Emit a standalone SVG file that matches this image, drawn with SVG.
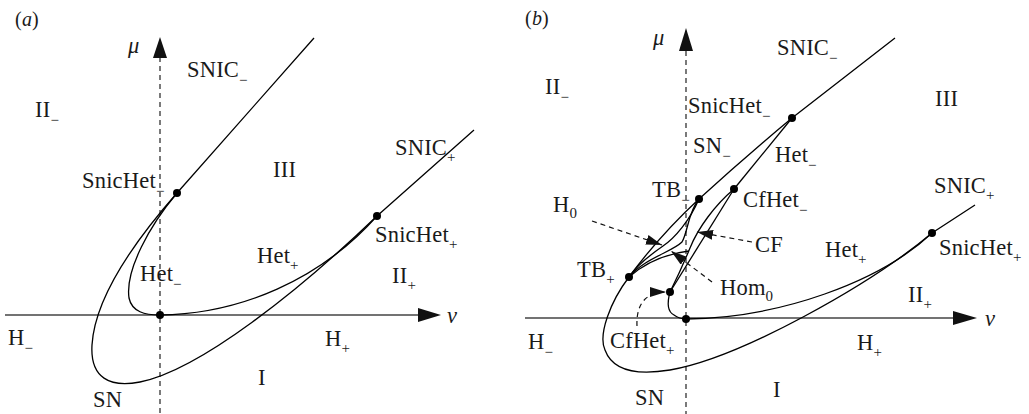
<svg xmlns="http://www.w3.org/2000/svg" width="1029" height="414" viewBox="0 0 1029 414">
<style>
.c{fill:none;stroke:#000;stroke-width:1.3}
.ax{fill:none;stroke:#444;stroke-width:1.6}
.dax{fill:none;stroke:#333;stroke-width:1.3;stroke-dasharray:5 4}
.dar{fill:none;stroke:#111;stroke-width:1.2;stroke-dasharray:5 4;marker-end:url(#ah)}
.hd{fill:#111;stroke:none}
.dot{fill:#000}
text{font-family:"Liberation Serif","Times New Roman",serif;font-size:22.5px;fill:#1a1a1a;letter-spacing:0.2px}
.sub{font-size:15px}
.it{font-style:italic}
.pl{font-size:20px}
</style>
<defs>
<marker id="ah" viewBox="0 0 16 10" refX="16" refY="5" markerWidth="16" markerHeight="10" markerUnits="userSpaceOnUse" orient="auto">
<path d="M0,0 L16,5 L0,10 z" fill="#111" stroke="none"/>
</marker>
</defs>

<g id="panel-a">
  <g id="a-axes">
    <line class="dax" x1="160" y1="57" x2="160" y2="414"/>
    <path class="hd" d="M160,37 L167,58 L153,58 z"/>
    <line class="ax" x1="5" y1="315" x2="420" y2="315"/>
    <path class="hd" d="M441,315 L418,308 L418,322 z"/>
  </g>
  <g id="a-curves">
    <path id="a-sn" class="c" d="M314,38 L177,193 C140,235 95,295 92,345 C90,378 110,388 140,382 C200,370 300,290 377,216 L474,130"/>
    <path id="a-het-minus" class="c" d="M177,193 C150,225 125,270 129,298 C132,312 145,315 160,315"/>
    <path id="a-het-plus" class="c" d="M160,315 C240,314 320,280 377,216"/>
  </g>
  <g id="a-points">
    <circle id="a-origin" class="dot" cx="160" cy="315" r="4"/>
    <circle id="a-snichet-minus" class="dot" cx="177" cy="193" r="4"/>
    <circle id="a-snichet-plus" class="dot" cx="377" cy="216" r="4"/>
  </g>
  <g id="a-labels">
    <text class="pl" x="15" y="26">(<tspan class="it">a</tspan>)</text>
    <text class="it" x="128" y="53">μ</text>
    <text class="it" x="447" y="323">ν</text>
    <text x="187" y="77">SNIC<tspan class="sub" dy="8">−</tspan></text>
    <text x="35" y="117">II<tspan class="sub" dy="8">−</tspan></text>
    <text x="273" y="177">III</text>
    <text x="82" y="188">SnicHet<tspan class="sub" dy="8">−</tspan></text>
    <text x="395" y="155">SNIC<tspan class="sub" dy="7">+</tspan></text>
    <text x="375" y="242">SnicHet<tspan class="sub" dy="7">+</tspan></text>
    <text x="257" y="263">Het<tspan class="sub" dy="7">+</tspan></text>
    <text x="140" y="281">Het<tspan class="sub" dy="8">−</tspan></text>
    <text x="392" y="283">II<tspan class="sub" dy="7">+</tspan></text>
    <text x="8" y="345">H<tspan class="sub" dy="8">−</tspan></text>
    <text x="325" y="346">H<tspan class="sub" dy="7">+</tspan></text>
    <text x="258" y="385">I</text>
    <text x="93" y="407">SN</text>
  </g>
</g>

<g id="panel-b">
  <g id="b-axes">
    <line class="dax" x1="686" y1="51" x2="686" y2="414"/>
    <path class="hd" d="M686,28 L693,51 L679,51 z"/>
    <line class="ax" x1="525" y1="318" x2="955" y2="318"/>
    <path class="hd" d="M977,318 L953,311 L953,325 z"/>
  </g>
  <g id="b-curves">
    <path id="b-sn" class="c" d="M895,38 L792,118 Q745,157 699,199 Q660,235 629,277 C610,302 598,335 605,350 C613,372 640,375 670,370 C740,358 870,285 932,233 L975,205"/>
    <path id="b-het-minus" class="c" d="M792,118 L734,189"/>
    <path id="b-het-plus" class="c" d="M686,319 C780,318 880,282 932,233"/>
    <path id="b-cf-right" class="c" d="M734,189 L670,292"/>
    <path id="b-cf-left" class="c" d="M734,189 C715,205 698,228 690,248 C683,265 676,280 670,292"/>
    <path id="b-h0" class="c" d="M699,199 C690,220 675,238 663,246 C650,255 637,265 629,277"/>
    <path id="b-hom0" class="c" d="M699,199 C688,212 688,232 682,242 C672,252 645,258 629,277"/>
    <path id="b-low" class="c" d="M629,277 C645,263 665,254 689,251"/>
    <path id="b-cfhet-origin" class="c" d="M670,292 C667,303 668,312 674,315 C678,318 682,319 686,319"/>
  </g>
  <g id="b-points">
    <circle id="b-origin" class="dot" cx="686" cy="319" r="4"/>
    <circle id="b-snichet-minus" class="dot" cx="792" cy="118" r="4"/>
    <circle id="b-tb-minus" class="dot" cx="699" cy="199" r="4"/>
    <circle id="b-cfhet-minus" class="dot" cx="734" cy="189" r="4"/>
    <circle id="b-tb-plus" class="dot" cx="629" cy="277" r="4"/>
    <circle id="b-cfhet-plus" class="dot" cx="670" cy="292" r="4"/>
    <circle id="b-snichet-plus" class="dot" cx="932" cy="233" r="4"/>
  </g>
  <g id="connectors">
    <path id="arr-h0" class="dar" d="M592,221 L662,245"/>
    <path id="arr-cf" class="dar" d="M752,242 L697,232"/>
    <path id="arr-hom0" class="dar" d="M712,282 L671,251"/>
    <path id="arr-cfhet-plus" class="dar" d="M637,326 C636,305 645,292 666,292"/>
  </g>
  <g id="b-labels">
    <text class="pl" x="525" y="25">(<tspan class="it">b</tspan>)</text>
    <text class="it" x="653" y="45">μ</text>
    <text class="it" x="985" y="326">ν</text>
    <text x="777" y="55">SNIC<tspan class="sub" dy="8">−</tspan></text>
    <text x="545" y="94">II<tspan class="sub" dy="8">−</tspan></text>
    <text x="688" y="113">SnicHet<tspan class="sub" dy="8">−</tspan></text>
    <text x="935" y="106">III</text>
    <text x="693" y="153">SN<tspan class="sub" dy="8">−</tspan></text>
    <text x="775" y="162">Het<tspan class="sub" dy="8">−</tspan></text>
    <text x="652" y="197">TB<tspan class="sub" dy="8">−</tspan></text>
    <text x="743" y="207">CfHet<tspan class="sub" dy="8">−</tspan></text>
    <text x="553" y="212">H<tspan class="sub" dy="6">0</tspan></text>
    <text x="755" y="252">CF</text>
    <text x="577" y="277">TB<tspan class="sub" dy="7">+</tspan></text>
    <text x="825" y="257">Het<tspan class="sub" dy="7">+</tspan></text>
    <text x="934" y="193">SNIC<tspan class="sub" dy="7">+</tspan></text>
    <text x="939" y="255">SnicHet<tspan class="sub" dy="7">+</tspan></text>
    <text x="720" y="295">Hom<tspan class="sub" dy="6">0</tspan></text>
    <text x="908" y="302">II<tspan class="sub" dy="7">+</tspan></text>
    <text x="528" y="349">H<tspan class="sub" dy="8">−</tspan></text>
    <text x="610" y="348">CfHet<tspan class="sub" dy="7">+</tspan></text>
    <text x="857" y="350">H<tspan class="sub" dy="7">+</tspan></text>
    <text x="773" y="397">I</text>
    <text x="635" y="405">SN</text>
  </g>
</g>
</svg>
